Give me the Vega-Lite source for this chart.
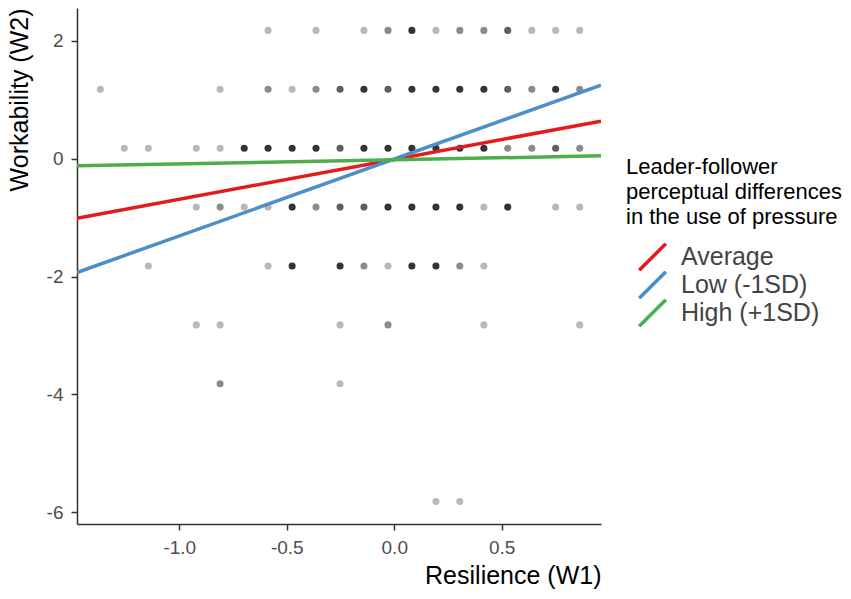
{
  "$schema": "https://vega.github.io/schema/vega-lite/v6.json",
  "description": "Resilience (W1) vs Workability (W2) with simple slopes for leader-follower perceptual differences.",
  "width": 524,
  "height": 516,
  "autosize": {"type": "none"},
  "padding": {"left": 77, "top": 8, "right": 250, "bottom": 75},
  "config": {
    "view": {"stroke": null},
    "font": "Liberation Sans",
    "locale": {
      "number": {"decimal": ".", "thousands": ",", "grouping": [3], "currency": ["$", ""], "minus": "-"}
    },
    "axis": {
      "grid": false,
      "domainColor": "#333333",
      "domainWidth": 1.5,
      "tickColor": "#333333",
      "tickWidth": 1.5,
      "tickSize": 6,
      "labelFontSize": 19,
      "labelColor": "#4d4d4d",
      "titleFontSize": 25,
      "titleFontWeight": "normal",
      "titleColor": "black",
      "titleAnchor": "end"
    }
  },
  "layer": [
    {
      "data": {
        "values": [
          {"resilience": -0.587, "workability": 2.18, "n": 1},
          {"resilience": -0.364, "workability": 2.18, "n": 1},
          {"resilience": -0.141, "workability": 2.18, "n": 1},
          {"resilience": -0.029, "workability": 2.18, "n": 2},
          {"resilience": 0.082, "workability": 2.18, "n": 4},
          {"resilience": 0.194, "workability": 2.18, "n": 1},
          {"resilience": 0.305, "workability": 2.18, "n": 2},
          {"resilience": 0.417, "workability": 2.18, "n": 2},
          {"resilience": 0.528, "workability": 2.18, "n": 3},
          {"resilience": 0.640, "workability": 2.18, "n": 1},
          {"resilience": 0.751, "workability": 2.18, "n": 1},
          {"resilience": 0.863, "workability": 2.18, "n": 1},

          {"resilience": -1.367, "workability": 1.18, "n": 1},
          {"resilience": -0.810, "workability": 1.18, "n": 1},
          {"resilience": -0.587, "workability": 1.18, "n": 2},
          {"resilience": -0.475, "workability": 1.18, "n": 1},
          {"resilience": -0.364, "workability": 1.18, "n": 2},
          {"resilience": -0.252, "workability": 1.18, "n": 3},
          {"resilience": -0.141, "workability": 1.18, "n": 4},
          {"resilience": -0.029, "workability": 1.18, "n": 3},
          {"resilience": 0.082, "workability": 1.18, "n": 4},
          {"resilience": 0.194, "workability": 1.18, "n": 4},
          {"resilience": 0.305, "workability": 1.18, "n": 4},
          {"resilience": 0.417, "workability": 1.18, "n": 4},
          {"resilience": 0.528, "workability": 1.18, "n": 3},
          {"resilience": 0.640, "workability": 1.18, "n": 2},
          {"resilience": 0.751, "workability": 1.18, "n": 4},
          {"resilience": 0.863, "workability": 1.18, "n": 2},

          {"resilience": -1.256, "workability": 0.18, "n": 1},
          {"resilience": -1.144, "workability": 0.18, "n": 1},
          {"resilience": -0.921, "workability": 0.18, "n": 1},
          {"resilience": -0.810, "workability": 0.18, "n": 1},
          {"resilience": -0.698, "workability": 0.18, "n": 4},
          {"resilience": -0.587, "workability": 0.18, "n": 4},
          {"resilience": -0.475, "workability": 0.18, "n": 4},
          {"resilience": -0.364, "workability": 0.18, "n": 4},
          {"resilience": -0.252, "workability": 0.18, "n": 3},
          {"resilience": -0.141, "workability": 0.18, "n": 4},
          {"resilience": -0.029, "workability": 0.18, "n": 4},
          {"resilience": 0.082, "workability": 0.18, "n": 4},
          {"resilience": 0.194, "workability": 0.18, "n": 4},
          {"resilience": 0.305, "workability": 0.18, "n": 4},
          {"resilience": 0.417, "workability": 0.18, "n": 4},
          {"resilience": 0.528, "workability": 0.18, "n": 2},
          {"resilience": 0.640, "workability": 0.18, "n": 2},
          {"resilience": 0.751, "workability": 0.18, "n": 3},
          {"resilience": 0.863, "workability": 0.18, "n": 2},

          {"resilience": -0.921, "workability": -0.82, "n": 1},
          {"resilience": -0.810, "workability": -0.82, "n": 2},
          {"resilience": -0.698, "workability": -0.82, "n": 1},
          {"resilience": -0.587, "workability": -0.82, "n": 1},
          {"resilience": -0.475, "workability": -0.82, "n": 4},
          {"resilience": -0.364, "workability": -0.82, "n": 2},
          {"resilience": -0.252, "workability": -0.82, "n": 3},
          {"resilience": -0.141, "workability": -0.82, "n": 3},
          {"resilience": -0.029, "workability": -0.82, "n": 4},
          {"resilience": 0.082, "workability": -0.82, "n": 4},
          {"resilience": 0.194, "workability": -0.82, "n": 4},
          {"resilience": 0.305, "workability": -0.82, "n": 4},
          {"resilience": 0.417, "workability": -0.82, "n": 1},
          {"resilience": 0.528, "workability": -0.82, "n": 4},
          {"resilience": 0.751, "workability": -0.82, "n": 1},
          {"resilience": 0.863, "workability": -0.82, "n": 1},

          {"resilience": -1.144, "workability": -1.82, "n": 1},
          {"resilience": -0.587, "workability": -1.82, "n": 1},
          {"resilience": -0.475, "workability": -1.82, "n": 4},
          {"resilience": -0.252, "workability": -1.82, "n": 4},
          {"resilience": -0.141, "workability": -1.82, "n": 2},
          {"resilience": -0.029, "workability": -1.82, "n": 1},
          {"resilience": 0.082, "workability": -1.82, "n": 4},
          {"resilience": 0.194, "workability": -1.82, "n": 4},
          {"resilience": 0.305, "workability": -1.82, "n": 2},
          {"resilience": 0.417, "workability": -1.82, "n": 1},

          {"resilience": -0.921, "workability": -2.82, "n": 1},
          {"resilience": -0.810, "workability": -2.82, "n": 1},
          {"resilience": -0.252, "workability": -2.82, "n": 1},
          {"resilience": -0.029, "workability": -2.82, "n": 2},
          {"resilience": 0.417, "workability": -2.82, "n": 1},
          {"resilience": 0.863, "workability": -2.82, "n": 1},

          {"resilience": -0.810, "workability": -3.82, "n": 2},
          {"resilience": -0.252, "workability": -3.82, "n": 1},

          {"resilience": 0.194, "workability": -5.82, "n": 1},
          {"resilience": 0.305, "workability": -5.82, "n": 1}
        ]
      },
      "mark": {"type": "circle", "color": "black", "size": 50},
      "encoding": {
        "x": {
          "field": "resilience",
          "type": "quantitative",
          "scale": {"domain": [-1.476, 0.962], "nice": false, "zero": false},
          "axis": {"values": [-1, -0.5, 0, 0.5], "format": ".1f", "labelPadding": 8, "titlePadding": 6},
          "title": "Resilience (W1)"
        },
        "y": {
          "field": "workability",
          "type": "quantitative",
          "scale": {"domain": [-6.2, 2.56], "nice": false, "zero": false},
          "axis": {"values": [-6, -4, -2, 0, 2], "format": "d", "labelPadding": 8, "titlePadding": 14},
          "title": "Workability (W2)"
        },
        "opacity": {
          "field": "n",
          "type": "quantitative",
          "scale": {"domain": [1, 4], "range": [0.28, 0.8]},
          "legend": null
        }
      }
    },
    {
      "data": {
        "values": [
          {"resilience": -1.476, "workability": -1.01, "group": "Average"},
          {"resilience": 0.962, "workability": 0.64, "group": "Average"},
          {"resilience": -1.476, "workability": -1.93, "group": "Low (-1SD)"},
          {"resilience": 0.962, "workability": 1.25, "group": "Low (-1SD)"},
          {"resilience": -1.476, "workability": -0.12, "group": "High (+1SD)"},
          {"resilience": 0.962, "workability": 0.05, "group": "High (+1SD)"}
        ]
      },
      "mark": {"type": "line", "strokeWidth": 3.5, "clip": true},
      "encoding": {
        "x": {"field": "resilience", "type": "quantitative"},
        "y": {"field": "workability", "type": "quantitative"},
        "color": {
          "field": "group",
          "type": "nominal",
          "scale": {
            "domain": ["Average", "Low (-1SD)", "High (+1SD)"],
            "range": ["#E41A1C", "#4A8FC7", "#4DAF4A"]
          },
          "legend": {
            "orient": "none",
            "legendX": 549,
            "legendY": 149,
            "title": ["Leader-follower", "perceptual differences", "in the use of pressure"],
            "titleFontSize": 22,
            "titleFontWeight": "normal",
            "titleColor": "black",
            "titleLineHeight": 25,
            "titleLimit": 400,
            "titlePadding": 14,
            "labelFontSize": 25,
            "labelColor": "#444444",
            "labelOffset": 16,
            "labelLimit": 300,
            "symbolType": "M-1.3,1.3L1.3,-1.3",
            "symbolSize": 420,
            "symbolStrokeWidth": 3.5,
            "symbolOffset": 14,
            "clipHeight": 28,
            "rowPadding": 0,
            "padding": 0
          }
        }
      }
    }
  ]
}
